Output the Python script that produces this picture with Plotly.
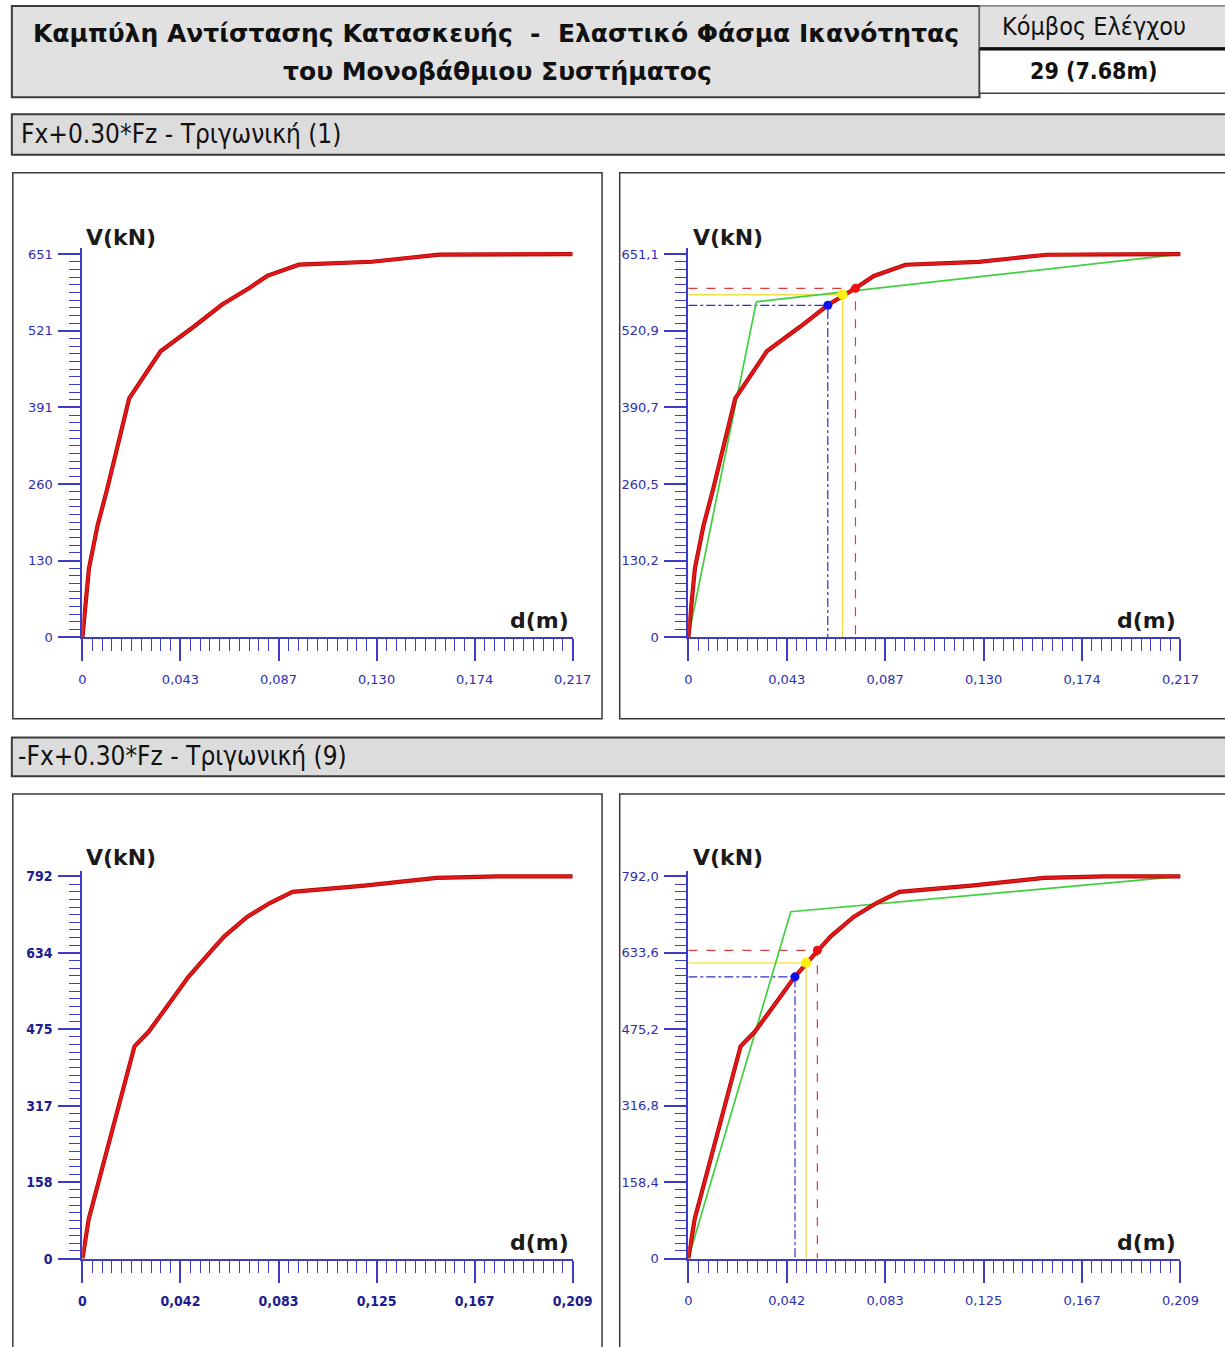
import plotly.graph_objects as go

W, H = 1225, 1347

# ---------------- DATA ----------------
title_line1 = "Καμπύλη Αντίστασης Κατασκευής  -  Ελαστικό Φάσμα Ικανότητας"
title_line2 = "του Μονοβάθμιου Συστήματος"
node_header = "Κόμβος Ελέγχου"
node_value = "29 (7.68m)"
case1_label = "Fx+0.30*Fz - Τριγωνική (1)"
case2_label = "-Fx+0.30*Fz - Τριγωνική (9)"

# Case 1 capacity curve
c1_d = [0, 0.0029, 0.0067, 0.0109, 0.0207, 0.0346, 0.0494, 0.0617, 0.0737, 0.0818, 0.0958, 0.128, 0.158, 0.1835, 0.217]
c1_V = [0, 117, 190, 251, 406, 486, 528, 565, 593, 614, 633, 638, 650, 651, 651]
c1_bil_d = [0, 0.0300, 0.217]
c1_bil_V = [0, 570, 651.1]
c1_blue = (0.0615, 564)
c1_yellow = (0.0680, 582)
c1_red = (0.0737, 593)
c1_dmax, c1_Vmax_left, c1_Vmax_right = 0.217, 651, 651.1
c1_xticks_left = ["0", "0,043", "0,087", "0,130", "0,174", "0,217"]
c1_yticks_left = ["0", "130", "260", "391", "521", "651"]
c1_xticks_right = ["0", "0,043", "0,087", "0,130", "0,174", "0,217"]
c1_yticks_right = ["0", "130,2", "260,5", "390,7", "520,9", "651,1"]

# Case 2 capacity curve
c2_d = [0, 0.0027, 0.0222, 0.0282, 0.0363, 0.0452, 0.0549, 0.0605, 0.0702, 0.0799, 0.0896, 0.1202, 0.151, 0.177, 0.209]
c2_V = [0, 82, 440, 470, 524, 584, 638, 668, 708, 737, 760, 773, 789, 792, 792]
c2_bil_d = [0, 0.0435, 0.209]
c2_bil_V = [0, 719, 792]
c2_blue = (0.0453, 584)
c2_yellow = (0.0500, 613)
c2_red = (0.0548, 639)
c2_dmax, c2_Vmax = 0.209, 792
c2_xticks_left = ["0", "0,042", "0,083", "0,125", "0,167", "0,209"]
c2_yticks_left = ["0", "158", "317", "475", "634", "792"]
c2_xticks_right = ["0", "0,042", "0,083", "0,125", "0,167", "0,209"]
c2_yticks_right = ["0", "158,4", "316,8", "475,2", "633,6", "792,0"]

# ---------------- HELPERS ----------------
def px(x):
    return x / W


def py(y):
    return 1 - y / H


AXIS_BLUE = "#3c3cc8"
RED = "#e01818"
GREEN = "#3fcf3f"

fig = go.Figure()

YEXT = 1.015  # small headroom so the plateau is not clipped


def setup_axes(idx, xl, xr, ybot, ytop, dmax, vmax, xt, yt, bold=False):
    xname = "xaxis" if idx == 1 else f"xaxis{idx}"
    yname = "yaxis" if idx == 1 else f"yaxis{idx}"
    xid = "x" if idx == 1 else f"x{idx}"
    yid = "y" if idx == 1 else f"y{idx}"
    hpx = (ybot - ytop) * YEXT
    tickfont = dict(family="DejaVu Sans", size=13, color="#2e2eb0")
    if bold:
        tickfont = dict(family="DejaVu Sans Condensed, DejaVu Sans", size=14, color="#1c1c90")
        xt = [f"<b>{t}</b>" for t in xt]
        yt = [f"<b>{t}</b>" for t in yt]
    n = len(xt) - 1
    common = dict(
        showline=True, linecolor=AXIS_BLUE, linewidth=2, showgrid=False, zeroline=False,
        ticks="outside", tickcolor=AXIS_BLUE, tickwidth=1.5, ticklen=22,
        tickfont=tickfont, tickmode="array", fixedrange=True,
    )
    fig.update_layout(**{
        xname: dict(
            common, domain=[px(xl), px(xr)], range=[0, dmax], anchor=yid,
            tickvals=[dmax * i / n for i in range(n + 1)], ticktext=xt,
            ticklabelstandoff=7,
            minor=dict(tickvals=[dmax * i / 50 for i in range(51)], ticklen=12,
                       tickwidth=1.2, tickcolor=AXIS_BLUE, ticks="outside"),
        ),
        yname: dict(
            common, domain=[py(ybot), py(ybot - hpx)], range=[0, vmax * YEXT], anchor=xid,
            tickvals=[vmax * i / n for i in range(n + 1)], ticktext=yt,
            ticklabelstandoff=3,
            minor=dict(tickvals=[vmax * i / 50 for i in range(51)], ticklen=11,
                       tickwidth=1.2, tickcolor=AXIS_BLUE, ticks="outside"),
        ),
    })
    return xid, yid


def add_curve(xid, yid, d, V):
    fig.add_trace(go.Scatter(x=d, y=V, mode="lines", xaxis=xid, yaxis=yid,
                             line=dict(color="#b00000", width=4.2), hoverinfo="skip"))
    fig.add_trace(go.Scatter(x=d, y=V, mode="lines", xaxis=xid, yaxis=yid,
                             line=dict(color=RED, width=2.8), hoverinfo="skip"))


def add_bilinear(xid, yid, d, V):
    fig.add_trace(go.Scatter(x=d, y=V, mode="lines", xaxis=xid, yaxis=yid,
                             line=dict(color=GREEN, width=1.7), hoverinfo="skip"))


def add_guides(xid, yid, pt, color, dash, width=1.2):
    fig.add_trace(go.Scatter(x=[0, pt[0], pt[0]], y=[pt[1], pt[1], 0], mode="lines",
                             xaxis=xid, yaxis=yid, line=dict(color=color, width=width, dash=dash),
                             hoverinfo="skip"))


def add_point(xid, yid, pt, color, size=9):
    fig.add_trace(go.Scatter(x=[pt[0]], y=[pt[1]], mode="markers", xaxis=xid, yaxis=yid,
                             marker=dict(color=color, size=size), cliponaxis=False,
                             hoverinfo="skip"))


# ---------------- PANELS ----------------
xa, ya = setup_axes(1, 80, 580, 640, 254, c1_dmax, c1_Vmax_left, c1_xticks_left, c1_yticks_left)
add_curve(xa, ya, c1_d, c1_V)

xa, ya = setup_axes(2, 698, 1200, 640, 254, c1_dmax, c1_Vmax_right, c1_xticks_right, c1_yticks_right)
add_guides(xa, ya, c1_blue, "#3030c0", "dashdot")
add_guides(xa, ya, c1_yellow, "#f2dc4a", "solid", 1.4)
add_guides(xa, ya, c1_red, "#e03a3a", "dash")
add_bilinear(xa, ya, c1_bil_d, c1_bil_V)
add_curve(xa, ya, c1_d, c1_V)
add_point(xa, ya, c1_blue, "#1010ee")
add_point(xa, ya, c1_yellow, "#ffee10", 10)
add_point(xa, ya, c1_red, "#ee1010")

xa, ya = setup_axes(3, 80, 580, 1266, 881, c2_dmax, c2_Vmax, c2_xticks_left, c2_yticks_left, bold=True)
add_curve(xa, ya, c2_d, c2_V)

xa, ya = setup_axes(4, 698, 1200, 1266, 881, c2_dmax, c2_Vmax, c2_xticks_right, c2_yticks_right)
add_guides(xa, ya, c2_blue, "#3030c0", "dashdot")
add_guides(xa, ya, c2_yellow, "#f2dc4a", "solid", 1.4)
add_guides(xa, ya, c2_red, "#e03a3a", "dash")
add_bilinear(xa, ya, c2_bil_d, c2_bil_V)
add_curve(xa, ya, c2_d, c2_V)
add_point(xa, ya, c2_blue, "#1010ee")
add_point(xa, ya, c2_yellow, "#ffee10", 10)
add_point(xa, ya, c2_red, "#ee1010")

# ---------------- FRAMES ----------------
shapes = []


def box(x0, y0, x1, y1, fill, lw=2, lc="#3a3a3a"):
    shapes.append(dict(type="rect", xref="paper", yref="paper", x0=px(x0), x1=px(x1),
                       y0=py(y1), y1=py(y0), fillcolor=fill, line=dict(color=lc, width=lw),
                       layer="below"))


EDGE_R, EDGE_B = 1320, 1420  # boxes run off the right / bottom page edge
box(8, 4, 995, 96, "#e1e1e1", 2)
box(995, 4, EDGE_R, 46, "#e1e1e1", 1.2, "#666")
box(995, 48, EDGE_R, 92, "#ffffff", 1.5, "#444")
shapes.append(dict(type="line", xref="paper", yref="paper", x0=px(995), x1=px(EDGE_R),
                   y0=py(47), y1=py(47), line=dict(color="#111", width=3), layer="below"))
box(8, 113, EDGE_R, 154, "#dcdcdc", 2)
box(9, 172, 610, 722, "#ffffff", 1.5)
box(628, 172, EDGE_R, 722, "#ffffff", 1.5)
box(8, 741, EDGE_R, 780, "#dcdcdc", 2)
box(9, 798, 610, EDGE_B, "#ffffff", 1.5)
box(628, 798, EDGE_R, EDGE_B, "#ffffff", 1.5)

# ---------------- TEXT ----------------
ann = []


def text(x, y, s, size, bold=False, anchor="center", family="DejaVu Sans", color="#111"):
    ann.append(dict(xref="paper", yref="paper", x=px(x), y=py(y), text=f"<b>{s}</b>" if bold else s,
                    showarrow=False, xanchor=anchor, yanchor="middle",
                    font=dict(family=family, size=size, color=color)))


text(502, 32, title_line1, 25, bold=True)
text(503, 70, title_line2, 25, bold=True)
text(1112, 25, node_header, 25, family="DejaVu Sans Condensed, DejaVu Sans")
text(1112, 70, node_value, 23, bold=True, family="DejaVu Sans Condensed, DejaVu Sans")
text(15, 133, case1_label, 26, anchor="left", family="DejaVu Sans Condensed, DejaVu Sans")
text(12, 760, case2_label, 26, anchor="left", family="DejaVu Sans Condensed, DejaVu Sans")

for (vx, vy, dx, dy) in [(119, 237, 546, 623), (738, 237, 1165, 623),
                         (119, 862, 546, 1250), (738, 862, 1165, 1250)]:
    text(vx, vy, "V(kN)", 22, bold=True, color="#1a1a1a")
    text(dx, dy, "d(m)", 22, bold=True, color="#1a1a1a")

fig.update_layout(
    width=W, height=H, margin=dict(l=0, r=0, t=0, b=0),
    paper_bgcolor="white", plot_bgcolor="rgba(0,0,0,0)",
    showlegend=False, shapes=shapes, annotations=ann,
)

fig.write_html("out.html")
